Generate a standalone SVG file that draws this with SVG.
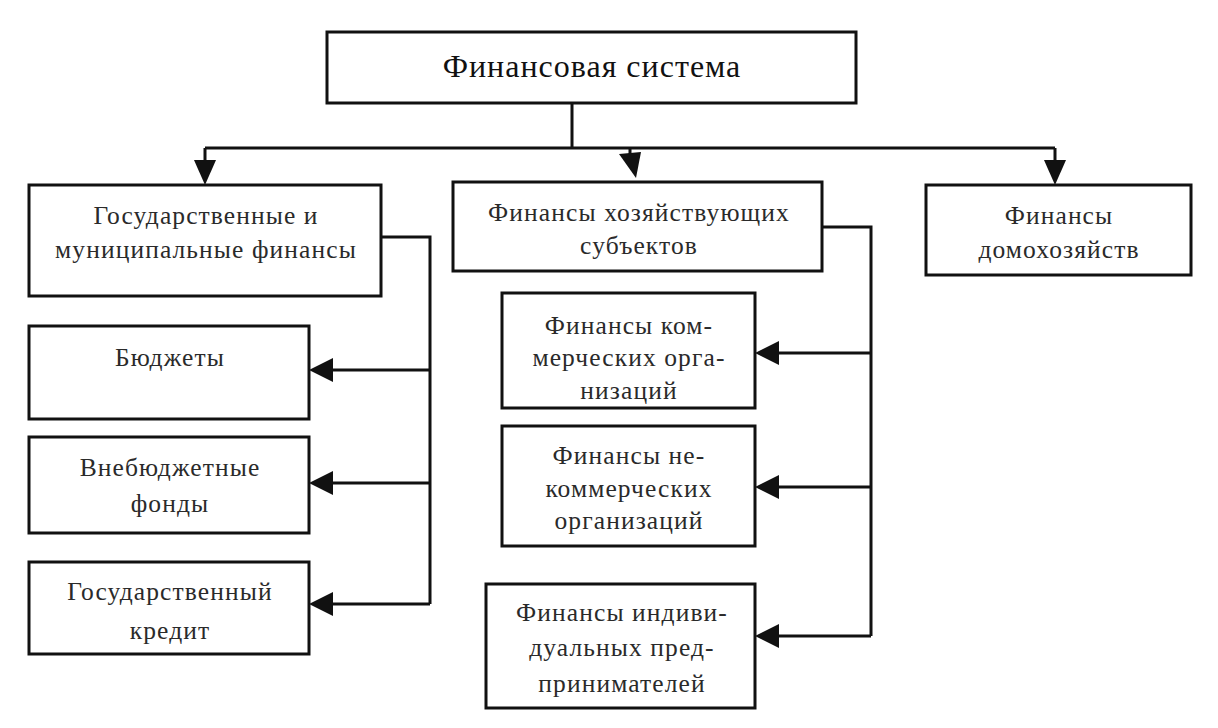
<svg xmlns="http://www.w3.org/2000/svg" width="1218" height="728" viewBox="0 0 1218 728">
<style>
.box{fill:#fff;stroke:#111;stroke-width:3}
.t{font-family:"Liberation Serif","Times New Roman",serif;font-size:25.5px;letter-spacing:1.1px;fill:#2a2a2a;text-anchor:middle}
.title{font-size:32px;letter-spacing:1px;fill:#111}
.ln{fill:none;stroke:#111;stroke-width:3}
.ah{fill:#111}
</style>
<rect width="1218" height="728" fill="#fff"/>
<g id="connectors">
<path class="ln" d="M572,103 V148 M205,148 H1055 M205,148 V162 M630,148 V156 M1055,148 V162"/>
<polygon class="ah" points="194,160 216,160 205,185"/>
<polygon class="ah" points="619,154 641,152 636,178"/>
<polygon class="ah" points="1044,160 1066,160 1055,185"/>
<path class="ln" d="M381,237 H430 V604 M430,370 H330 M430,483 H330 M430,604 H330"/>
<polygon class="ah" points="309,370 333,358 333,382"/>
<polygon class="ah" points="309,483 333,471 333,495"/>
<polygon class="ah" points="309,604 333,592 333,616"/>
<path class="ln" d="M822,227 H871 V636 M871,353 H776 M871,487 H776 M871,636 H776"/>
<polygon class="ah" points="755,353 779,341 779,365"/>
<polygon class="ah" points="755,487 779,475 779,499"/>
<polygon class="ah" points="755,636 779,624 779,648"/>
</g>
<g id="n-root">
<rect class="box" x="327" y="32" width="529" height="71"/>
<text class="t title" x="592" y="77">Финансовая система</text>
</g>
<g id="n-gov">
<rect class="box" x="29" y="185" width="352" height="111"/>
<text class="t" x="206" y="224">Государственные и</text>
<text class="t" x="206" y="258">муниципальные финансы</text>
</g>
<g id="n-biz">
<rect class="box" x="453" y="182" width="369" height="89"/>
<text class="t" x="639" y="221">Финансы хозяйствующих</text>
<text class="t" x="639" y="254">субъектов</text>
</g>
<g id="n-home">
<rect class="box" x="926" y="185" width="265" height="90"/>
<text class="t" x="1059" y="224">Финансы</text>
<text class="t" x="1059" y="258">домохозяйств</text>
</g>
<g id="n-budget">
<rect class="box" x="29" y="326" width="280" height="93"/>
<text class="t" x="170" y="366">Бюджеты</text>
</g>
<g id="n-offbudget">
<rect class="box" x="29" y="437" width="280" height="96"/>
<text class="t" x="170" y="476">Внебюджетные</text>
<text class="t" x="170" y="512">фонды</text>
</g>
<g id="n-credit">
<rect class="box" x="29" y="562" width="280" height="92"/>
<text class="t" x="170" y="600">Государственный</text>
<text class="t" x="170" y="639">кредит</text>
</g>
<g id="n-comm">
<rect class="box" x="502" y="293" width="253" height="115"/>
<text class="t" x="629" y="334">Финансы  ком-</text>
<text class="t" x="629" y="366">мерческих орга-</text>
<text class="t" x="629" y="399">низаций</text>
</g>
<g id="n-noncomm">
<rect class="box" x="502" y="426" width="253" height="120"/>
<text class="t" x="629" y="464">Финансы  не-</text>
<text class="t" x="629" y="497">коммерческих</text>
<text class="t" x="629" y="529">организаций</text>
</g>
<g id="n-indiv">
<rect class="box" x="486" y="584" width="269" height="124"/>
<text class="t" x="622" y="621">Финансы индиви-</text>
<text class="t" x="622" y="656">дуальных пред-</text>
<text class="t" x="622" y="692">принимателей</text>
</g>
</svg>
